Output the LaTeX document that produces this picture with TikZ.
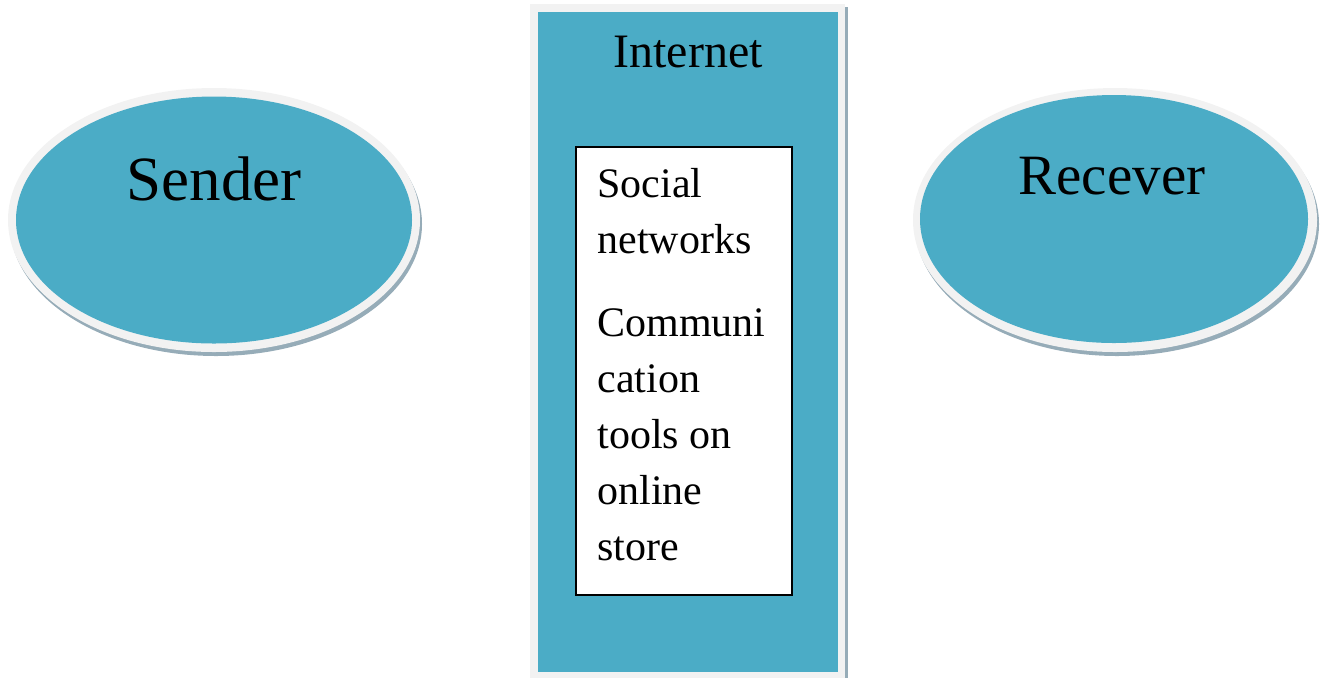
\documentclass[tikz,border=0pt]{standalone}
\usepackage{fontspec}
\setmainfont{Liberation Serif}
\usetikzlibrary{shapes, shadows}
\definecolor{boxblue}{RGB}{75,172,198}
\definecolor{ringgrey}{RGB}{242,242,242}
\definecolor{shadowblue}{RGB}{150,172,184}

\begin{document}
\begin{tikzpicture}[
            x=0.5pt, y=-0.5pt,
                ring/.style = {ellipse, fill=ringgrey, inner sep=0pt,
                            drop shadow={shadow xshift=1pt, shadow yshift=-2pt,
                            fill=shadowblue, opacity=1}},
                blob/.style = {ellipse, fill=boxblue, inner sep=0pt},
                panel/.style = {rectangle, fill=ringgrey, inner sep=0pt,
                            drop shadow={shadow xshift=1.5pt, shadow yshift=-1.5pt,
                            fill=shadowblue, opacity=1}},
                panelcore/.style = {rectangle, fill=boxblue, inner sep=0pt},
                toolsbox/.style = {rectangle, draw=black, line width=1pt,
                            fill=white, inner sep=0pt},
                bigtext/.style = {anchor=base, inner sep=0pt}]
            \useasboundingbox (0,0) rectangle (1322,677);
            % sender
            \node (SenderRing) [ring, minimum width=206pt, minimum height=132pt] at (214,220) {};
            \node (Sender) [blob, minimum width=198pt, minimum height=123.5pt] at (214,220) {};
            \node (SenderText) [bigtext, font=\fontsize{31.5}{36}\selectfont] at (214,200) {Sender};
            % receiver
            \node (ReceverRing) [ring, minimum width=202pt, minimum height=132pt] at (1115,220) {};
            \node (Recever) [blob, minimum width=194pt, minimum height=124pt] at (1114,219) {};
            \node (ReceverText) [bigtext, font=\fontsize{28.5}{34}\selectfont] at (1112,194) {Recever};
            % internet
            \node (InternetPanel) [panel, minimum width=157.5pt, minimum height=338pt] at (687.5,342) {};
            \node (Internet) [panelcore, minimum width=150pt, minimum height=330pt] at (688,342) {};
            \node (InternetText) [bigtext, font=\fontsize{24}{28}\selectfont] at (688,67) {Internet};
            \node (ToolsBox) [toolsbox, minimum width=108pt, minimum height=224pt] at (684,371) {};
            \node (ToolsText) [anchor=north west, inner sep=0pt, align=left,
                font=\fontsize{21}{28}\selectfont] at (597,168) {
                Social\\networks\\[13.5pt]Communi\\cation\\tools on\\online\\store
            };
        \end{tikzpicture}
\end{document}
